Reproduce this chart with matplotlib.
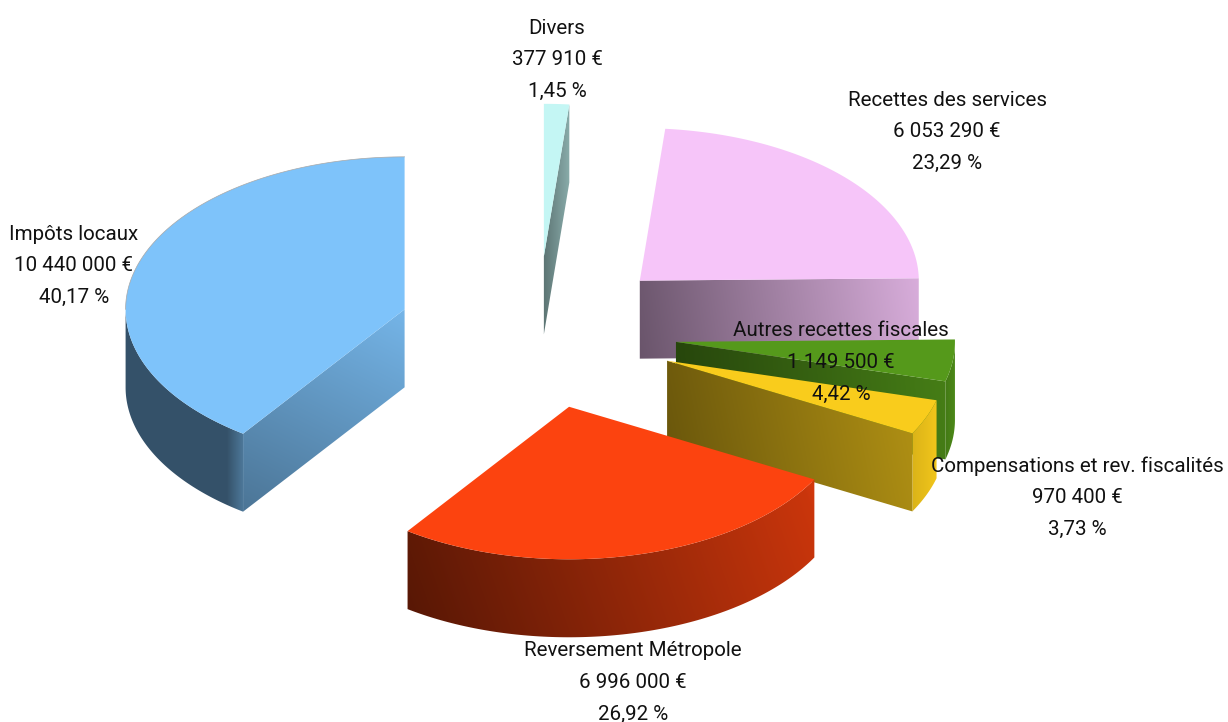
import numpy as np
import matplotlib
matplotlib.use('Agg')
import matplotlib.pyplot as plt
from matplotlib.patches import Polygon
from matplotlib.colors import to_rgb

# budget data
names = ['Impôts locaux', 'Reversement Métropole', 'Compensations et rev. fiscalités',
         'Autres recettes fiscales', 'Recettes des services', 'Divers']
amounts = [10440000, 6996000, 970400, 1149500, 6053290, 377910]
percents = ['40,17 %', '26,92 %', '3,73 %', '4,42 %', '23,29 %', '1,45 %']

# styles
colors = ['#7EC3FA', '#FC430F', '#F9CC1C', '#55991B', '#F6C5F9', '#C4F6F4']
# shading of the side walls: (direction, stops along it, brightness at the stops)
radial_shade = [((0.5, -1), [0, 1], [0.60, 0.93]),
                ((1, 0), [0, 1], [0.4, 0.8]),
                ((1, -0.2), [0, 1], [0.43, 0.70]),
                ((1, -0.1), [0, 1], [0.45, 0.82]),
                ((1, -0.15), [0, 1], [0.43, 0.88]),
                ((1, 0), [0, 1], [0.48, 0.70])]
outer_shade = [((1, 0), [0, 0.86, 1], [0.42, 0.42, 0.62]),
               ((1, -0.35), [0, 0.97, 1], [0.35, 0.80, 0.86]),
               ((1, 0), [0, 1], [0.88, 0.97]),
               ((1, 0), [0, 1], [0.80, 0.90]),
               ((1, 0), [0, 1], [0.9, 0.9]),
               ((1, 0), [0, 1], [0.7, 0.7])]
draw_order = [5, 4, 3, 2, 0, 1]
label_pos = [(74, 234), (633, 651), (1077, 466), (841, 331), (947, 100), (557, 28)]

# pie geometry, in pixels
CX, CY = 537.5, 332.5
RX, RY = 279, 152.5
DEPTH = 78
EXPLODE = 0.5
LINE_GAP = 31.5


def arc(cx, cy, a0, a1, n=120):
    t = np.radians(np.linspace(a0, a1, n))
    return np.column_stack([cx + RX * np.cos(t), cy - RY * np.sin(t)])


def shaded_wall(ax, pts, color, shade):
    '''fills a polygon with a linear gradient of the slice colour'''
    direction, stops, values = shade
    x0, y0 = np.floor(pts.min(axis=0))
    x1, y1 = np.ceil(pts.max(axis=0))
    xx, yy = np.meshgrid(np.arange(x0, x1 + 1), np.arange(y0, y1 + 1))
    proj = xx * direction[0] + yy * direction[1]
    corners = pts[:, 0] * direction[0] + pts[:, 1] * direction[1]
    t = (proj - corners.min()) / (corners.max() - corners.min())
    factor = np.interp(t, stops, values)
    img = factor[..., None] * np.array(to_rgb(color))
    im = ax.imshow(img, extent=(x0 - 0.5, x1 + 0.5, y1 + 0.5, y0 - 0.5),
                   interpolation='bilinear', zorder=1, aspect='auto')
    clip = Polygon(pts, closed=True, transform=ax.transData)
    im.set_clip_path(clip)


def draw_slice(ax, a0, a1, color, rad, out):
    mid = np.radians((a0 + a1) / 2)
    cx = CX + EXPLODE * RX * np.cos(mid)
    cy = CY - EXPLODE * RY * np.sin(mid)
    tip = np.array([[cx, cy]])
    down = np.array([0, DEPTH])
    top = arc(cx, cy, a0, a1)

    # outer wall, only the front half of the ellipse shows
    lo, hi = max(a0, 180), min(a1, 360)
    if hi > lo:
        edge = arc(cx, cy, lo, hi)
        shaded_wall(ax, np.vstack([edge, edge[::-1] + down]), color, out)

    # cut faces looking towards the viewer
    if np.cos(np.radians(a0)) > 0.01:
        p = top[:1]
        shaded_wall(ax, np.vstack([tip, p, p + down, tip + down]), color, rad)
    if np.sin(np.radians(a1)) < 0 and np.cos(np.radians(a1)) < 0:
        p = top[-1:]
        shaded_wall(ax, np.vstack([tip, p, p + down, tip + down]), color, rad)

    ax.add_patch(Polygon(np.vstack([tip, top]), closed=True, facecolor=color,
                         edgecolor='none', zorder=2))

    # thin grey rim along the back of the slice
    hi_back = min(a1, 180)
    if a0 < hi_back:
        rim = arc(cx, cy, a0, hi_back)
        ax.plot(rim[:, 0], rim[:, 1], color='#a8a8a8', lw=0.5, zorder=3)


def main():
    fig = plt.figure(figsize=(12.28, 7.22), dpi=100)
    ax = fig.add_axes([0, 0, 1, 1])
    ax.axis('off')

    total = sum(amounts)
    ends = 90 + np.cumsum(amounts) / total * 360
    starts = np.concatenate([[90], ends[:-1]])

    for i in draw_order:
        draw_slice(ax, starts[i], ends[i], colors[i], radial_shade[i], outer_shade[i])

    ax.set_xlim(0, 1228)
    ax.set_ylim(722, 0)

    # three line labels on top of everything
    for name, val, pct, (x, y) in zip(names, amounts, percents, label_pos):
        amount = f'{val:,}'.replace(',', ' ') + ' €'
        for k, line in enumerate([name, amount, pct]):
            ax.text(x, y + k * LINE_GAP, line, ha='center', va='center',
                    family='Roboto', fontsize=14.8, color='#111111', zorder=5)

    fig.savefig('out.png', dpi=100, facecolor='white')


main()
